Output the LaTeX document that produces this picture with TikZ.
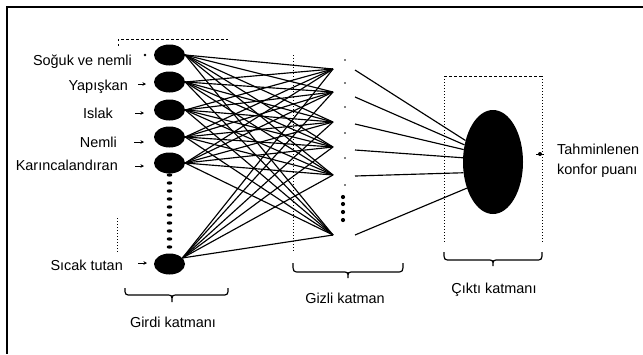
\documentclass[tikz,border=0pt]{standalone}
\usepackage{fontspec}
\setmainfont{Liberation Sans}
\usetikzlibrary{shapes.geometric,arrows.meta}
\newcommand{\hbrace}[6]{%
 \draw[brc] (#1,#4) .. controls (#1,#5) .. ({#1+7},#5) -- ({#2-6},#5)
   .. controls (#2,#5) .. (#2,#6) .. controls (#2,#5) .. ({#2+6},#5)
   -- ({#3-7},#5) .. controls (#3,#5) .. (#3,#4);}
\begin{document}
\begin{tikzpicture}[x=1bp,y=-1bp,
  neuron/.style={ellipse,fill=black,draw=none,minimum width=31bp,minimum height=21bp,inner sep=0},
  lbl/.style={anchor=base east,inner sep=0,font=\fontsize{14.5}{17}\selectfont},
  ttl/.style={anchor=base,inner sep=0,font=\fontsize{14.5}{17}\selectfont},
  wire/.style={line width=1.15bp},
  tickarrow/.style={-{Stealth[length=3.5bp,width=3.5bp]},line width=0.9bp},
  brc/.style={line width=1.2bp},
  dotline/.style={dash pattern=on 1bp off 2bp,line width=0.9bp},
  dashline/.style={dash pattern=on 2.5bp off 2.5bp,line width=1bp}]
\useasboundingbox (0,0) rectangle (643,354);
% frame
\draw[line width=1.5bp] (643,7) -- (7,7) -- (7,354);

% input neurons
\node[neuron] (i1) at (169.5,55) {};
\node[neuron] (i2) at (169.5,82) {};
\node[neuron] (i3) at (169.5,110) {};
\node[neuron] (i4) at (169.5,137) {};
\node[neuron] (i5) at (169.5,163) {};
\node[neuron] (i6) at (169.5,264) {};
\foreach \y in {175,183,...,247} \fill (169.5,\y) ellipse [x radius=2.8bp, y radius=1.7bp];

% input labels
\node[lbl] (l1) at (132,65) {Soğuk ve nemli};
\node[lbl] (l2) at (128,90) {Yapışkan};
\node[lbl] (l3) at (113,118) {Islak};
\node[lbl] (l4) at (117,147) {Nemli};
\node[lbl] (l5) at (118,170) {Karıncalandıran};
\node[lbl] (l6) at (123,270) {Sıcak tutan};

% small arrows
\fill (145,55) circle (1.3bp);
\coordinate (a2s) at (138,84);  \coordinate (a2e) at (146,84);
\coordinate (a3s) at (135,113); \coordinate (a3e) at (144,113);
\coordinate (a4s) at (134,142); \coordinate (a4e) at (144,142);
\coordinate (a5s) at (135,166); \coordinate (a5e) at (144,166);
\coordinate (a6s) at (138,263); \coordinate (a6e) at (147,263);
\foreach \k in {2,...,6} \draw[tickarrow] (a\k s) -- (a\k e);

% input layer box fragments
\draw[dashline] (118,46) -- (118,39) -- (228,39);
\draw[dotline] (117,218) -- (117,252);

% hidden layer
\coordinate (hin1) at (333,69);  \coordinate (hout1) at (355,70);
\coordinate (hin2) at (333,92);  \coordinate (hout2) at (355,97);
\coordinate (hin3) at (333,122); \coordinate (hout3) at (355,124);
\coordinate (hin4) at (333,147); \coordinate (hout4) at (355,150);
\coordinate (hin5) at (333,175); \coordinate (hout5) at (355,176);
\coordinate (hin6) at (333,235); \coordinate (hout6) at (355,235);
\draw[dotline] (293,55) -- (293,253);
\foreach \y in {60,83,107,133,158,185} \fill (345,\y) circle (0.9bp);
\foreach \y in {197,204,212,220} \fill (343,\y) circle (2.1bp);

% input -> hidden
\foreach \i/\a in {1/east,2/east,3/east,4/east,5/east,6/25}
  \foreach \j in {1,...,6}
    \draw[wire] (i\i.\a) -- (hin\j);

% output
\node[ellipse,fill=black,draw=none,minimum width=60bp,minimum height=104bp,inner sep=0] (o) at (493,162) {};
\foreach \j/\a in {1/142,2/149,3/157,4/172,5/200,6/225}
  \draw[wire] (hout\j) -- (o.\a);
\draw[dashline] (444,76) -- (542,76);
\draw[dotline] (444,76) -- (444,243);
\draw[dotline] (542,76) -- (542,243);
\fill (540,154) circle (2bp);
\draw[line width=0.8bp] (536,154) -- (544,154);

\node[anchor=base west,inner sep=0,font=\fontsize{14.5}{17}\selectfont] (t1) at (557,154) {Tahminlenen};
\node[anchor=base west,inner sep=0,font=\fontsize{14.5}{17}\selectfont] (t2) at (557,174) {konfor puanı};

% braces
\hbrace{125}{172}{228}{288}{295}{302}
\hbrace{293}{348}{403}{263}{272}{278}
\hbrace{444}{493}{542}{252}{260}{266}

\node[ttl] (g1) at (173,327) {Girdi katmanı};
\node[ttl] (g2) at (345,303) {Gizli katman};
\node[ttl] (g3) at (494,293) {Çıktı katmanı};
\end{tikzpicture}
\end{document}
